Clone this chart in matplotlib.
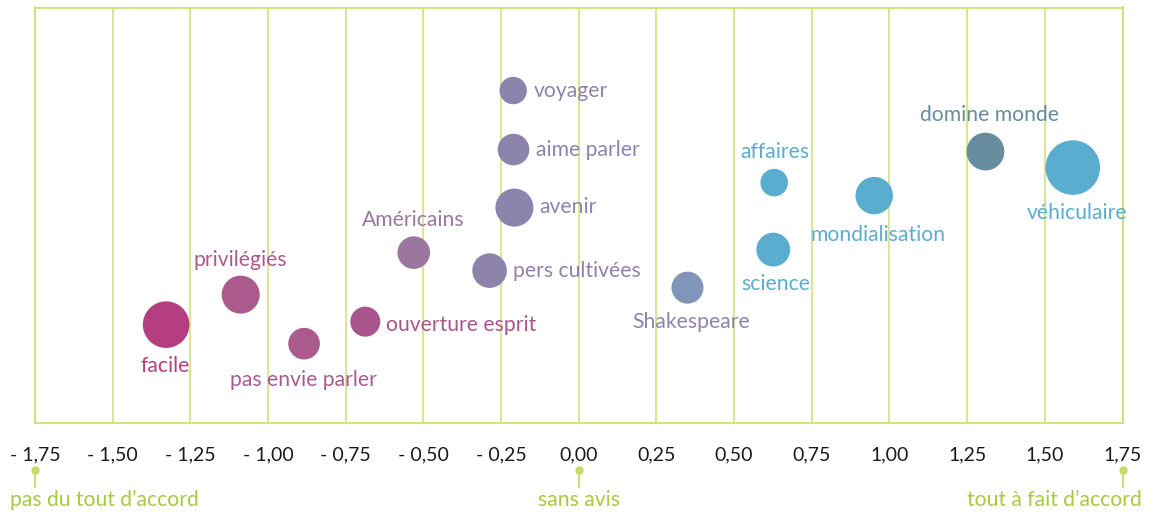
import matplotlib
matplotlib.use("Agg")
import matplotlib.pyplot as plt
import matplotlib.transforms as mtransforms
import numpy as np

plt.rcParams['font.family'] = ['Lato', 'DejaVu Sans']

# ---- data ----
labels = ["facile", "privilégiés", "pas envie parler", "ouverture esprit", "Américains",
          "pers cultivées", "voyager", "aime parler", "avenir", "Shakespeare",
          "science", "affaires", "mondialisation", "domine monde", "véhiculaire"]
x_vals = [-1.328, -1.088, -0.884, -0.687, -0.531, -0.287, -0.211, -0.210, -0.207,
          0.350, 0.626, 0.629, 0.951, 1.309, 1.590]
y_vals = [98, 128, 79, 101, 170, 152, 332, 273, 215, 135, 173, 240, 227, 271, 255]
weights = [543, 361, 250, 225, 266, 299, 188, 250, 361, 256, 286, 190, 350, 357, 745]
colors = ["#b43e80", "#ab5a8e", "#aa5a8d", "#a9558b", "#9b77a0", "#8d83ab", "#8d84ae",
          "#8d84ae", "#8d84ae", "#8095b8", "#5aadcf", "#5aadcf", "#5aadcf", "#668c9e",
          "#5aadcf"]
text_colors = ["#b43e80", "#ab5a8e", "#aa5a8d", "#a9558b", "#9b77a0", "#8d83ab", "#8d84ae",
               "#8d84ae", "#8d84ae", "#8d84ae", "#5aadcf", "#5aadcf", "#5aadcf", "#668c9e",
               "#5aadcf"]

tick_values = [-1.75, -1.5, -1.25, -1.0, -0.75, -0.5, -0.25, 0.0, 0.25, 0.5, 0.75,
               1.0, 1.25, 1.5, 1.75]
tick_labels = ["- 1,75", "- 1,50", "- 1,25", "- 1,00", "- 0,75", "- 0,50", "- 0,25",
               "0,00", "0,25", "0,50", "0,75", "1,00", "1,25", "1,50", "1,75"]

anchor_values = [-1.75, 0.0, 1.75]
anchor_labels = ["pas du tout d’accord", "sans avis", "tout à fait d’accord"]

# label placement (offsets in pixels: dx, dy (down positive), ha)
label_style = {
    "facile": (-1, 41, "center"),
    "privilégiés": (0, -35, "center"),
    "pas envie parler": (-1, 36, "center"),
    "ouverture esprit": (21, 3, "left"),
    "Américains": (-1, -33, "center"),
    "pers cultivées": (23, 0, "left"),
    "voyager": (21, 0, "left"),
    "aime parler": (23, 0, "left"),
    "avenir": (25, -1, "left"),
    "Shakespeare": (4, 34.5, "center"),
    "science": (3, 34, "center"),
    "affaires": (1, -31, "center"),
    "mondialisation": (4, 39, "center"),
    "domine monde": (4, -37, "center"),
    "véhiculaire": (4, 45.5, "center"),
}

GRID = "#cfdf72"
GREEN_TEXT = "#a8c940"
DOT = "#c6d96c"
LABEL_FS = 15.2

W, H = 1153, 514
fig = plt.figure(figsize=(W / 100, H / 100), dpi=100)
left, right, top, bottom = 35, 1122.5, 7.5, 422.7
ax = fig.add_axes([left / W, 1 - bottom / H, (right - left) / W, (bottom - top) / H])

ax.set_xlim(-1.75, 1.75)
ax.set_ylim(0, 415)

px2pt = 72 / 100
sizes = [(2 * np.sqrt(w) * px2pt) ** 2 for w in weights]
ax.scatter(x_vals, y_vals, s=sizes, c=colors, linewidths=0, zorder=3)

for lab, xv, yv, col in zip(labels, x_vals, y_vals, text_colors):
    dx, dy, ha = label_style[lab]
    ax.annotate(lab, (xv, yv), xytext=(dx * px2pt, -dy * px2pt), textcoords="offset points",
                ha=ha, va="center", color=col, fontsize=LABEL_FS, zorder=4)

ax.set_xticks(tick_values)
ax.set_xticklabels(tick_labels, fontsize=14, color="#1a1a1a")
ax.tick_params(axis="x", length=0, pad=17)
ax.set_yticks([])
ax.grid(axis="x", color=GRID, linewidth=1.1)
ax.set_axisbelow(True)
for sp in ax.spines.values():
    sp.set_color(GRID)
    sp.set_linewidth(1.3)

trans = mtransforms.blended_transform_factory(ax.transData, ax.transAxes)
h_ax = bottom - top
y_dot = -(470 - bottom) / h_ax
y_line_end = -(487 - bottom) / h_ax
y_text = -(500 - bottom) / h_ax
text_offsets = [(-25, "left"), (0, "center"), (19, "right")]
for av, al, (off, ha) in zip(anchor_values, anchor_labels, text_offsets):
    ax.plot([av, av], [y_dot, y_line_end], color=DOT, linewidth=1.3, transform=trans,
            clip_on=False)
    ax.plot([av], [y_dot], marker="o", markersize=6, color=DOT, markeredgewidth=0,
            transform=trans, clip_on=False)
    ax.annotate(al, (av, y_text), xycoords=trans, xytext=(off * px2pt, 0),
                textcoords="offset points", ha=ha, va="center", color=GREEN_TEXT,
                fontsize=LABEL_FS, annotation_clip=False)

fig.savefig("out.png", dpi=100)
